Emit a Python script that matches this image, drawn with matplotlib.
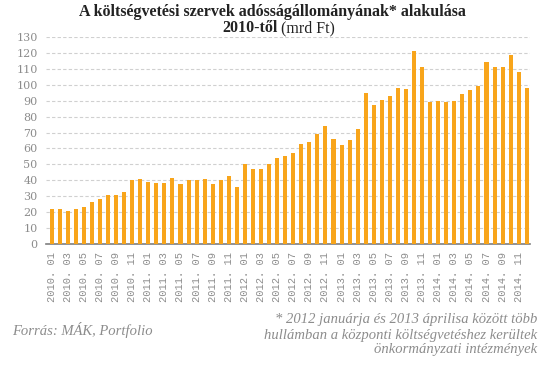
import numpy as np
import matplotlib.pyplot as plt

# Monthly debt stock of budgetary institutions, 2010.01 - 2014.12 (bn HUF)
years = [2010, 2011, 2012, 2013, 2014]
months = [f"{y}. {m:02d}" for y in years for m in range(1, 13)]
values = [
    22, 22, 20.5, 22, 23.5, 26.5, 28, 30.5, 31, 32.5, 40, 41,          # 2010
    39, 38, 38, 41.5, 37.5, 40, 40, 41, 37.5, 40.5, 42.5, 35.5,        # 2011
    50, 47, 47, 50.5, 54, 55, 57, 62.5, 64, 69, 74, 66,                # 2012
    62, 65.5, 72, 95, 87, 90.5, 93, 98, 97.5, 121, 111, 89,            # 2013
    89.5, 89, 90, 94.5, 97, 99.5, 114, 111, 111, 118.5, 108, 98,       # 2014
]

BAR_COLOR = "#F8A51B"
GRAY = "#8c8c8c"

fig = plt.figure(figsize=(5.44, 3.66), dpi=100)
ax = fig.add_axes([46 / 544, 1 - 244 / 366, (530 - 46) / 544, (244 - 37) / 366])

x = np.arange(len(values))
ax.bar(x, values, width=0.5, color=BAR_COLOR, zorder=3)

ax.set_ylim(0, 130)
ax.set_xlim(-0.7, len(values) - 0.6)
ax.set_yticks(np.arange(0, 131, 10))
ax.yaxis.grid(True, color="#d0d0d0", linestyle=(0, (3, 2)), linewidth=0.8, zorder=0)
ax.set_xticks(x[::2])
ax.set_xticklabels(months[::2], rotation=90, family="Liberation Mono",
                   fontsize=7.5, color=GRAY)
for lbl in ax.get_yticklabels():
    lbl.set_family("DejaVu Serif")
    lbl.set_fontsize(8)
    lbl.set_color(GRAY)
ax.tick_params(axis="both", length=0, pad=6)
ax.tick_params(axis="x", pad=6)

for side in ["top", "right", "left"]:
    ax.spines[side].set_visible(False)
ax.spines["bottom"].set_color("#7f7f7f")
ax.spines["bottom"].set_linewidth(1.2)

# Title
fig.text(272 / 544, 1 - 12 / 366, "A költségvetési szervek adósságállományának* alakulása",
         ha="center", va="center", fontsize=11.5, fontweight="bold",
         family="Liberation Serif", color="#222222")
fig.text(278 / 544, 1 - 28 / 366, "2010-től", ha="right", va="center", fontsize=11.5,
         fontweight="bold", family="Liberation Serif", color="#222222")
fig.text(281 / 544, 1 - 28 / 366, "(mrd Ft)", ha="left", va="center", fontsize=11.5,
         family="Liberation Serif", color="#222222")

# Footnotes
fig.text(12 / 544, 1 - 330 / 366, "Forrás: MÁK, Portfolio", ha="left", va="center",
         fontsize=10.5, style="italic", family="Liberation Serif", color=GRAY)
fig.text(537 / 544, 1 - 335 / 366,
         "* 2012 januárja és 2013 áprilisa között több\n"
         "hullámban a központi költségvetéshez kerültek\n"
         "önkormányzati intézmények",
         ha="right", va="center", fontsize=10.5, style="italic", family="Liberation Serif",
         color=GRAY, linespacing=1.2, multialignment="right")

fig.savefig("out.png", dpi=100, facecolor="white")
